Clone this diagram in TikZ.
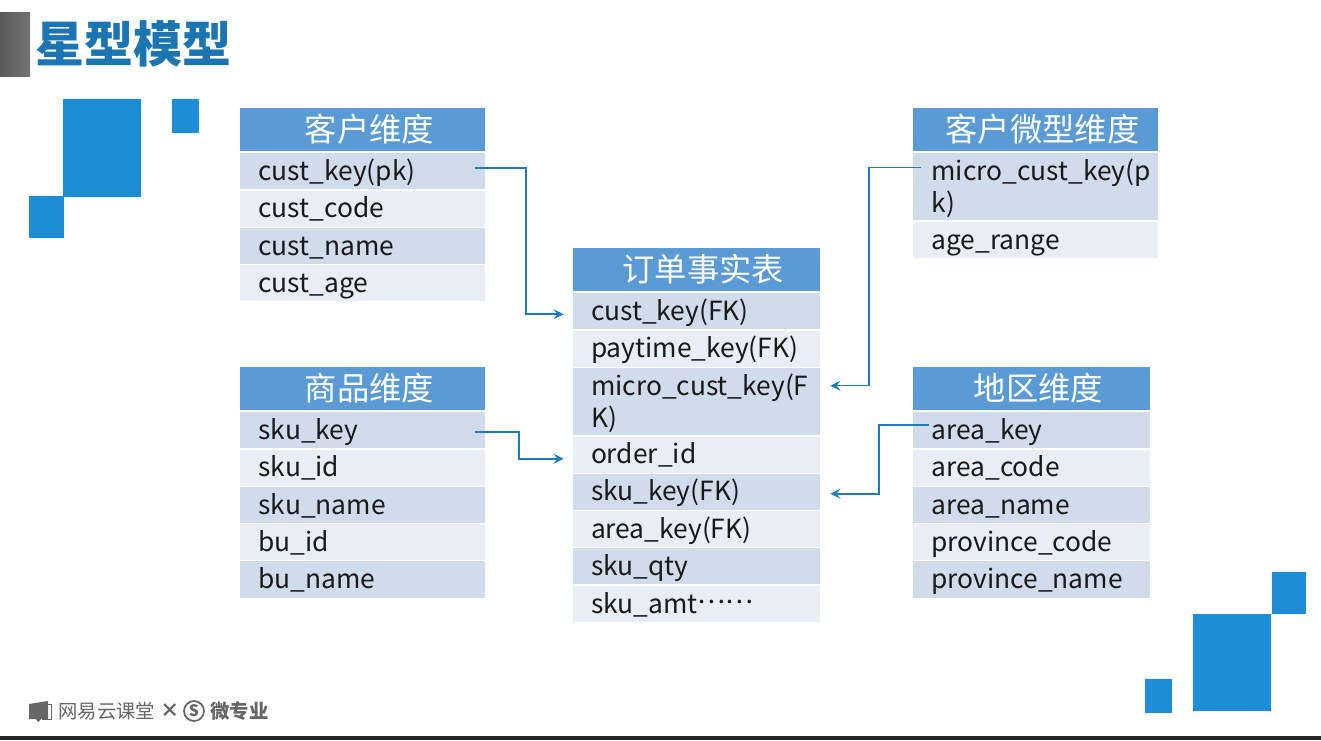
\documentclass[tikz,border=0pt]{standalone}
\usepackage{fontspec}
\setmainfont{Noto Sans CJK SC}
\usetikzlibrary{arrows.meta}
\definecolor{headblue}{HTML}{5B9BD5}
\definecolor{rowdark}{HTML}{D0DCEC}
\definecolor{rowlight}{HTML}{E9EDF6}
\definecolor{squareblue}{HTML}{1F8DD6}
\definecolor{titleblue}{HTML}{1A75B2}
\definecolor{linkblue}{HTML}{1C7CBC}
\definecolor{logogray}{HTML}{666666}
\tikzset{>={Stealth[length=.2cm,width=.2cm,inset=.08cm]}}
\tikzset{cell/.style = {shape=rectangle,anchor=north west,draw=white,line width=.02cm,inner xsep=.38cm,inner ysep=0pt,minimum height=.75cm,font=\fontsize{15pt}{18.4pt}\selectfont,text=black!90}}
\tikzset{oneline/.style = {cell,text height=.51cm,text depth=.14cm,text width=#1,align=left}}
\tikzset{wrapped/.style = {cell,minimum height=1.37cm,text width=#1,align=left,execute at begin node={\rule{0pt}{.5cm}}}}
\tikzset{headcell/.style = {cell,fill=headblue,minimum height=.88cm,inner xsep=0pt,text width=#1,align=center,text=white,font=\fontsize{18.4pt}{22pt}\selectfont,execute at begin node={\hspace*{.28cm}}}}
\tikzset{link/.style = {draw=linkblue,line width=.03cm,rounded corners=0pt}}
\tikzset{square/.style = {fill=squareblue}}
\begin{document}
\begin{tikzpicture}[x=.02cm,y=-.02cm]
\useasboundingbox (0,0) rectangle (1321,740);
% title bar
\fill[left color=black!65,right color=black!55] (0,13) rectangle (30,77);
\node[anchor=west,inner sep=0pt,text=titleblue,font=\fontsize{27.9pt}{30pt}\selectfont\bfseries] (title) at (35.5,44) {星型模型};
\fill[square] (63,99) rectangle (141,197);
\fill[square] (172,99) rectangle (199,133);
\fill[square] (29,196) rectangle (64,238);
\fill[square] (1193,614) rectangle (1271,711);
\fill[square] (1272,572) rectangle (1306,614);
\fill[square] (1145,679) rectangle (1172,713);
% customer
\node[headcell=4.92cm] (custhead) at (239,107) {客户维度};
\node[oneline=4.16cm,fill=rowdark] (custkey) at (239,152) {cust\_key(pk)};
\node[oneline=4.16cm,fill=rowlight] (custcode) at (239,189.5) {cust\_code};
\node[oneline=4.16cm,fill=rowdark] (custname) at (239,227) {cust\_name};
\node[oneline=4.16cm,fill=rowlight] (custage) at (239,264) {cust\_age};
% goods
\node[headcell=4.92cm] (skuhead) at (239,366) {商品维度};
\node[oneline=4.16cm,fill=rowdark] (skukey) at (239,411) {sku\_key};
\node[oneline=4.16cm,fill=rowlight] (skuid) at (239,448.5) {sku\_id};
\node[oneline=4.16cm,fill=rowdark] (skuname) at (239,485.5) {sku\_name};
\node[oneline=4.16cm,fill=rowlight] (buid) at (239,523) {bu\_id};
\node[oneline=4.16cm,fill=rowdark] (buname) at (239,560) {bu\_name};
% fact
\node[headcell=4.98cm] (facthead) at (571.5,247) {订单事实表};
\node[oneline=4.22cm,fill=rowdark] (fcust) at (571.5,292) {cust\_key(FK)};
\node[oneline=4.22cm,fill=rowlight] (fpay) at (571.5,329.5) {paytime\_key(FK)};
\node[wrapped=4.22cm,fill=rowdark] (fmicro) at (571.5,367) {\mbox{micro\_cust\_key(F}\\K)};
\node[oneline=4.22cm,fill=rowlight] (forder) at (571.5,435.5) {order\_id};
\node[oneline=4.22cm,fill=rowdark] (fsku) at (571.5,472.5) {sku\_key(FK)};
\node[oneline=4.22cm,fill=rowlight] (farea) at (571.5,510) {area\_key(FK)};
\node[oneline=4.22cm,fill=rowdark] (fqty) at (571.5,547) {sku\_qty};
\node[oneline=4.22cm,fill=rowlight] (famt) at (571.5,584.5) {sku\_amt\raisebox{.2cm}{……}};
% micro customer
\node[headcell=4.92cm] (microhead) at (912,107) {客户微型维度};
\node[wrapped=4.16cm,fill=rowdark] (microkey) at (912,152) {\mbox{micro\_cust\_key(p}\\k)};
\node[oneline=4.16cm,fill=rowlight] (agerange) at (912,221) {age\_range};
% area
\node[headcell=4.76cm] (areahead) at (912,366) {地区维度};
\node[oneline=4cm,fill=rowdark] (areakey) at (912,411) {area\_key};
\node[oneline=4cm,fill=rowlight] (areacode) at (912,448.5) {area\_code};
\node[oneline=4cm,fill=rowdark] (areaname) at (912,485.5) {area\_name};
\node[oneline=4cm,fill=rowlight] (provcode) at (912,523) {province\_code};
\node[oneline=4cm,fill=rowdark] (provname) at (912,560) {province\_name};
% links
\draw[link,->] ([xshift=-.22cm,yshift=.06cm]custkey.east) -- ++(51,0) |- ([xshift=-.16cm,yshift=-.06cm]fcust.west);
\draw[link,->] ([xshift=-.22cm,yshift=-.03cm]skukey.east) -- ++(44,0) |- ([xshift=-.16cm,yshift=-.08cm]forder.west);
\draw[link,->] ([xshift=.18cm,yshift=.38cm]microkey.west) -- ++(-52,0) |- ([xshift=.18cm,yshift=.32cm]fmicro.east);
\draw[link,->] ([xshift=.34cm,yshift=.11cm]areakey.west) -- ++(-50,0) |- ([xshift=.18cm,yshift=-.04cm]fsku.east);
% footer
\fill[logogray] (29,704) -- (48,701) -- (48,719) -- (41,719) -- (38,722) -- (36,719) -- (29,719) -- cycle;
\draw[logogray,line width=.02cm] (48,704) -- (51,704) -- (51,719) -- (42,719);
\node[anchor=west,inner sep=0pt,text=logogray,font=\fontsize{11pt}{13pt}\selectfont] (wangyi) at (58,711) {网易云课堂};
\node[anchor=center,inner sep=0pt,text=logogray,font=\fontsize{11pt}{13pt}\selectfont\bfseries] (times) at (170,711) {×};
\node[shape=circle,draw=logogray,line width=.035cm,inner sep=0pt,minimum size=.4cm,text=logogray,font=\fontsize{9pt}{10pt}\selectfont\bfseries] (sicon) at (194,711) {S};
\node[anchor=west,inner sep=0pt,text=logogray,font=\fontsize{11pt}{13pt}\selectfont\bfseries] (weizhuanye) at (210,711) {微专业};
\fill[black!85] (0,736) rectangle (1321,740);
\end{tikzpicture}
\end{document}
